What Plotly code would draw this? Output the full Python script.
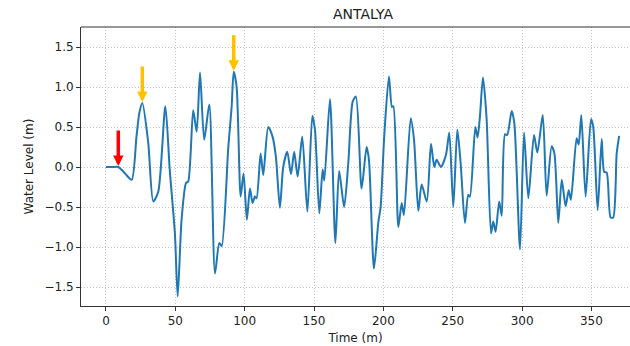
import plotly.graph_objects as go

time_min = [0, 4.5, 8.9, 13.7, 18.5, 22, 24, 26.2, 30.5, 34.1, 37.7, 42.8, 46, 49.7, 51.7, 54.5, 57.7, 59.3,
            62.9, 65.4, 67.8, 70.8, 74.5, 78.6, 81.7, 83.4, 88.2, 90.6, 92.1, 94.2, 97.1, 99.2, 101.6,
            103.8, 105.7, 107.4, 108.6, 111.5, 113.4, 117, 120.1, 122.5, 125.4, 127.8, 130.7, 133.4,
            135.7, 138.2, 141.5, 145.2, 148.8, 150.7, 153.8, 156.2, 157.4, 161.5, 165.4, 168.1, 171.7,
            174.7, 177.9, 180.2, 184.3, 187.9, 189.6, 193.2, 196.3, 198.0, 200.6, 204, 206.2, 207.2,
            210.8, 213.2, 214.8, 219.7, 222.1, 225.2, 227.6, 231.3, 234.3, 236.7, 238.4, 241.5, 245.1,
            247.5, 250.4, 253.3, 255.7, 258.8, 261.2, 262.4, 266.3, 267.9, 269.6, 271.8, 274.4, 277.6,
            279.2, 280.9, 283.5, 285.3, 287.7, 289.3, 292.5, 294.4, 298.5, 301.4, 304.5, 308.6, 311,
            314.9, 317.7, 321.3, 323.3, 326.1, 328.6, 331.4, 333.6, 335.2, 339.3, 340.8, 342.7, 345.8,
            349.7, 351.3, 354.5, 357.4, 359.2, 361, 363.8, 365.7, 368.2, 370]

water_level = [0, 0, 0, -0.08, -0.16, 0.38, 0.67, 0.80, 0.30, -0.43, -0.31, 0.76, -0.04, -0.83, -1.62, -0.66,
               -0.20, -0.18, 0.71, 0.44, 1.18, 0.34, 0.78, -1.33, -0.95, -0.99, 0.25, 0.75, 1.19, 1.00,
               -0.37, -0.08, -0.66, -0.27, -0.45, -0.37, -0.39, 0.17, -0.10, 0.50, 0.38, 0.13, -0.51,
               0.0, 0.19, -0.09, 0.19, -0.12, 0.38, -0.56, 0.64, 0.46, -0.58, -0.03, -0.17, 0.85, -0.95,
               -0.05, -0.50, 0.05, 0.82, 0.88, -0.27, 0.25, 0.09, -1.27, -0.70, -0.50, 0.38, 1.13, 0.75,
               0.76, -0.75, -0.45, -0.60, 0.61, 0.34, -0.55, -0.22, -0.43, 0.29, 0.0, 0.09, 0.0, 0.15,
               0.43, -0.50, 0.47, 0.05, -0.70, -0.35, -0.37, 0.50, 0.37, 0.63, 1.12, 0.61, -0.83, -0.68,
               -0.81, -0.43, -0.61, 0.41, 0.40, 0.70, 0.55, -1.03, 0.43, -0.39, 0.40, 0.18, 0.65, -0.36,
               0.26, 0.17, -0.70, -0.16, -0.49, -0.29, -0.41, 0.36, 0.28, 0.65, -0.37, 0.60, 0.50, -0.54,
               0.35, -0.06, -0.07, -0.63, -0.63, 0.17, 0.39]

x_ticks = [0, 50, 100, 150, 200, 250, 300, 350]
y_ticks = [-1.5, -1.0, -0.5, 0.0, 0.5, 1.0, 1.5]
y_tick_text = ["\u22121.5", "\u22121.0", "\u22120.5", "0.0", "0.5", "1.0", "1.5"]

arrow_times = [8.9, 26.2, 92.1]
arrow_colors = ["#ff0000", "#ffc000", "#ffc000"]

fig = go.Figure()
fig.add_trace(go.Scatter(x=time_min, y=water_level, mode="lines",
                         line=dict(color="#1f77b4", width=2, shape="spline", smoothing=0.7),
                         showlegend=False, hoverinfo="skip"))

for t, c in zip(arrow_times, arrow_colors):
    i = time_min.index(t)
    fig.add_annotation(x=t, y=water_level[i], ax=0, ay=-38, text="", showarrow=True,
                       arrowhead=2, arrowsize=0.6, arrowwidth=3.5, arrowcolor=c,
                       xref="x", yref="y", standoff=1)

axis_common = dict(showline=True, linecolor="#333333", linewidth=1, ticks="outside", ticklen=4,
                   tickcolor="#333333", tickwidth=1, showgrid=True, gridcolor="#c4c4c4",
                   griddash="1px,2px", gridwidth=1, zeroline=False,
                   tickfont=dict(family="DejaVu Sans", size=12, color="#222222"))

fig.update_xaxes(range=[-18.0, 377.8], tickvals=x_ticks, **axis_common,
                 title=dict(text="Time (m)", font=dict(family="DejaVu Sans", size=12, color="#222222"),
                            standoff=6))
fig.update_yaxes(range=[-1.7375, 1.75], tickvals=y_ticks, ticktext=y_tick_text, **axis_common,
                 title=dict(text="Water Level (m)", font=dict(family="DejaVu Sans", size=12, color="#222222"),
                            standoff=8))

fig.add_shape(type="line", xref="paper", yref="paper", x0=0, x1=1, y0=1, y1=1,
              line=dict(color="#333333", width=1))

fig.update_layout(
    width=630, height=346,
    margin=dict(l=81, r=0, t=27, b=40),
    paper_bgcolor="white", plot_bgcolor="white",
    title=dict(text="ANTALYA", x=363 / 630, xanchor="center", y=1 - 14 / 346, yanchor="middle",
               font=dict(family="DejaVu Sans", size=14, color="#222222")),
)

fig.write_html("out.html")
